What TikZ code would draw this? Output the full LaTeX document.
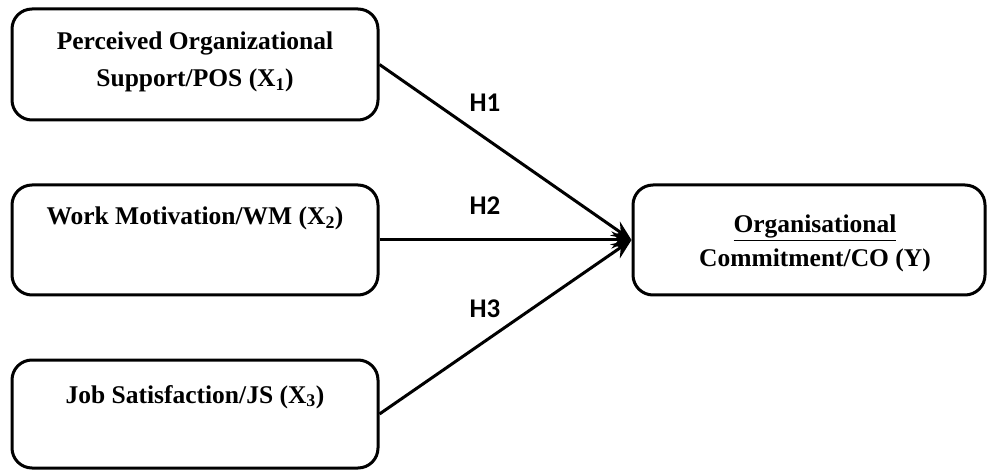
\documentclass[tikz,border=0pt]{standalone}
\usepackage{fontspec}
\setmainfont{Liberation Serif}
\newfontfamily\hfont{Carlito}
\usetikzlibrary{arrows.meta}
\tikzset{
  box/.style={draw=black, line width=3pt, rounded corners=20pt, fill=white, inner sep=0pt},
  btext/.style={anchor=base, inner sep=0pt, font=\fontsize{25.5}{30}\selectfont\bfseries},
  hlabel/.style={anchor=base, inner sep=0pt, font=\fontsize{27}{32}\selectfont\hfont\bfseries},
  conn/.style={line width=3pt, -{Stealth[length=20pt, width=17pt, inset=7pt]}}
}
\begin{document}
\begin{tikzpicture}[x=1pt, y=-1pt]
\useasboundingbox (0,0) rectangle (988,470);
% boxes
\node[box, minimum width=366pt, minimum height=111pt] (pos) at (195,64.5) {};
\node[box, minimum width=366pt, minimum height=110pt] (wm) at (195,240) {};
\node[box, minimum width=366pt, minimum height=108pt] (js) at (195,414) {};
\node[box, minimum width=352pt, minimum height=110pt] (co) at (809,240) {};
% texts
\node[btext] (pos1) at (195,50) {Perceived Organizational};
\node[btext] (pos2) at (195,87) {Support/POS (X\textsubscript{1})};
\node[btext] (wmt) at (195,225) {Work Motivation/WM (X\textsubscript{2})};
\node[btext] (jst) at (195,403) {Job Satisfaction/JS (X\textsubscript{3})};
\node[btext] (co1) at (815,233) {\underline{Organisational}};
\node[btext] (co2) at (815,267) {Commitment/CO (Y)};
% connectors
\draw[conn] (pos.east) -- (co.west);
\draw[conn] (wm.east) -- (co.west);
\draw[conn] (js.east) -- (co.west);
% labels
\node[hlabel] (h1) at (485,112) {H1};
\node[hlabel] (h2) at (485,215) {H2};
\node[hlabel] (h3) at (485,318) {H3};
\end{tikzpicture}
\end{document}
